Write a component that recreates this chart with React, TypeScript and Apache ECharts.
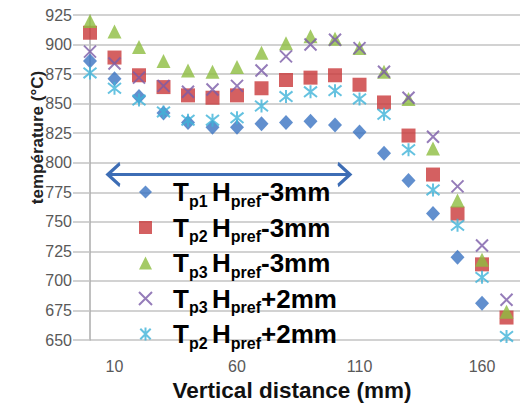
import React, { useEffect, useRef } from "react";
import * as echarts from "echarts";

// ---- data ----
const distances = [0, 10, 20, 30, 40, 50, 60, 70, 80, 90, 100, 110, 120, 130, 140, 150, 160, 170];
const tp1Minus3 = [886, 871, 856, 842, 834, 830, 830, 833, 834, 835, 832, 826, 808, 785, 757, 720, 681];
const tp2Minus3 = [910, 889, 874, 864, 857, 855, 857, 863, 870, 872, 874, 866, 851, 823, 790, 757, 714, 669];
const tp3Minus3 = [920, 911, 898, 886, 878, 877, 881, 893, 901, 907, 905, 897, 877, 854, 812, 768, 718, 674];
const tp3Plus2 = [894, 884, 872, 865, 860, 862, 865, 878, 890, 900, 904, 897, 877, 855, 822, 780, 730, 684];
const tp2Plus2 = [876, 863, 853, 843, 836, 836, 838, 848, 856, 860, 861, 854, 841, 811, 777, 747, 703, 653];
const seriesNames = ["Tp1 Hpref-3mm", "Tp2 Hpref-3mm", "Tp3 Hpref-3mm", "Tp3 Hpref+2mm", "Tp2 Hpref+2mm"];
const xTickLabels = [10, 60, 110, 160];
const arrowXs = [7.3, 106.1];
const arrowY = 790;

const FONT = "'Liberation Sans', Arial, sans-serif";
const GRID_COLOR = "#c3c3c3";
const TICK_COLOR = "#595959";
const ARROW_COLOR = "#3d6db5";

const pairs = (vals: number[]) => vals.map((v, i) => [distances[i], v]);

const legendText = (name: string) => {
  const m = name.match(/^T(p\d) H(pref)([+-]\dmm)$/);
  if (!m) return name;
  return `{f|T}{s|${m[1]}}{s| }{b|H}{s|${m[2]}}{b|${m[3]}}`;
};

export default function App() {
  const ref = useRef<HTMLDivElement>(null);
  useEffect(() => {
    if (!ref.current) return;
    const chart = echarts.init(ref.current, null, { renderer: "svg" });
    const option: any = {
      animation: false,
      backgroundColor: "#ffffff",
      grid: { left: 90, right: 3, top: 15, bottom: 68, containLabel: false, outerBoundsMode: "none" },
      xAxis: {
        type: "value",
        min: 0,
        max: 175.5,
        axisLine: { show: false },
        axisTick: { show: false },
        splitLine: { show: false },
        axisLabel: {
          customValues: xTickLabels,
          margin: 18,
          color: TICK_COLOR,
          fontSize: 16,
          fontFamily: FONT,
        },
        name: "Vertical distance (mm)",
        nameLocation: "middle",
        nameGap: 39,
        nameMoveOverlap: false,
        nameTextStyle: {
          fontSize: 22.5,
          fontWeight: "bold",
          color: "#111111",
          fontFamily: FONT,
          padding: [0, 26, 0, 0],
        },
      },
      yAxis: {
        type: "value",
        min: 650,
        max: 925,
        interval: 25,
        axisLine: { show: true, lineStyle: { color: "#ababab", width: 1.5 } },
        axisTick: { show: true, length: 17, lineStyle: { color: GRID_COLOR, width: 1.5 } },
        axisLabel: { margin: 18, color: TICK_COLOR, fontSize: 16, fontFamily: FONT },
        splitLine: { show: true, lineStyle: { color: GRID_COLOR, width: 1.5 } },
        name: "température (°C)",
        nameLocation: "middle",
        nameGap: 44,
        nameMoveOverlap: false,
        nameTextStyle: {
          fontSize: 17,
          fontWeight: "bold",
          color: "#222222",
          fontFamily: FONT,
          padding: [0, 0, 0, 80],
        },
      },
      legend: {
        orient: "vertical",
        left: 138,
        top: 179,
        padding: 0,
        itemGap: 5.5,
        itemWidth: 13,
        itemHeight: 13,
        data: seriesNames,
        formatter: legendText,
        textStyle: {
          rich: {
            f: { fontSize: 26, fontWeight: "bold", fontFamily: FONT, color: "#000", lineHeight: 34, padding: [0, 0, 0, 16] },
            b: { fontSize: 26, fontWeight: "bold", fontFamily: FONT, color: "#000", lineHeight: 34 },
            s: { fontSize: 16, fontWeight: "bold", fontFamily: FONT, color: "#000", lineHeight: 12, verticalAlign: "bottom" },
          },
        },
      },
      series: [
        {
          name: seriesNames[0],
          type: "scatter",
          data: pairs(tp1Minus3),
          symbol: "diamond",
          symbolSize: [14, 15],
          itemStyle: { color: "#3a73c2" },
          z: 2,
        },
        {
          name: seriesNames[1],
          type: "scatter",
          data: pairs(tp2Minus3),
          symbol: "rect",
          symbolSize: 14,
          itemStyle: { color: "#c9383a" },
          z: 3,
        },
        {
          name: seriesNames[2],
          type: "scatter",
          data: pairs(tp3Minus3),
          symbol: "triangle",
          symbolSize: [14, 14],
          itemStyle: { color: "#8dbd40" },
          z: 4,
        },
        {
          name: seriesNames[3],
          type: "scatter",
          data: pairs(tp3Plus2),
          symbol: "path://M0,0L10,10M10,0L0,10",
          symbolSize: 12,
          itemStyle: { color: "transparent", borderColor: "#7b5ba8", borderWidth: 2 },
          z: 5,
        },
        {
          name: seriesNames[4],
          type: "scatter",
          data: pairs(tp2Plus2),
          symbol: "path://M1,1L9,9M9,1L1,9M5,0L5,10",
          symbolSize: 13,
          itemStyle: { color: "transparent", borderColor: "#3fb3d8", borderWidth: 2 },
          z: 6,
        },
        {
          name: "arrow",
          type: "line",
          silent: true,
          data: [
            { value: [arrowXs[0], arrowY], symbolRotate: 90, symbolOffset: [6, 0] },
            { value: [arrowXs[1], arrowY], symbolRotate: -90, symbolOffset: [-6, 0] },
          ],
          symbol: "path://M0,11L10,0L20,11",
          symbolSize: [22, 12],
          showSymbol: true,
          lineStyle: { color: ARROW_COLOR, width: 3 },
          itemStyle: { color: "transparent", borderColor: ARROW_COLOR, borderWidth: 3 },
          z: 7,
        },
      ],
    };
    chart.setOption(option);
    return () => chart.dispose();
  }, []);
  return (
    <div
      ref={ref}
      style={{ position: "fixed", left: 0, top: 0, width: 523, height: 408, background: "#fff" }}
    />
  );
}
